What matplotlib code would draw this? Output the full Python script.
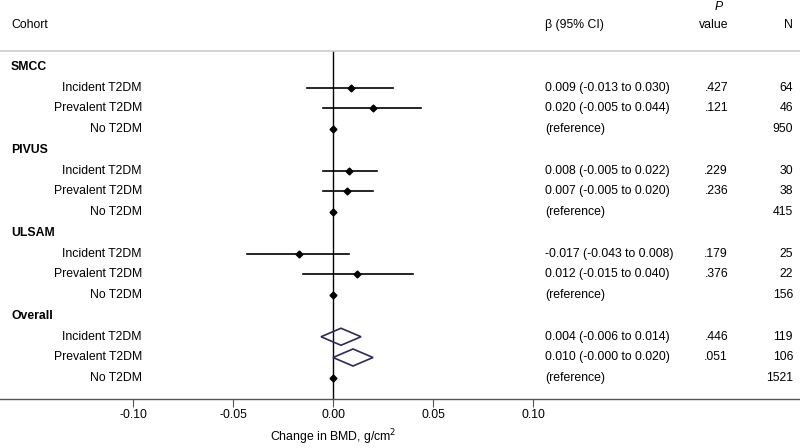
import matplotlib.pyplot as plt
import matplotlib.transforms as mtransforms
from matplotlib.patches import Polygon

plt.rcParams['font.family'] = ['Liberation Sans', 'DejaVu Sans']

# Data
cohorts = ["SMCC", "PIVUS", "ULSAM", "Overall"]
subgroups = ["Incident T2DM", "Prevalent T2DM", "No T2DM"]
beta = [[0.009, 0.020, 0.0], [0.008, 0.007, 0.0], [-0.017, 0.012, 0.0], [0.004, 0.010, 0.0]]
ci_low = [[-0.013, -0.005, None], [-0.005, -0.005, None], [-0.043, -0.015, None], [-0.006, -0.000, None]]
ci_high = [[0.030, 0.044, None], [0.022, 0.020, None], [0.008, 0.040, None], [0.014, 0.020, None]]
ci_text = [["0.009 (-0.013 to 0.030)", "0.020 (-0.005 to 0.044)", "(reference)"],
           ["0.008 (-0.005 to 0.022)", "0.007 (-0.005 to 0.020)", "(reference)"],
           ["-0.017 (-0.043 to 0.008)", "0.012 (-0.015 to 0.040)", "(reference)"],
           ["0.004 (-0.006 to 0.014)", "0.010 (-0.000 to 0.020)", "(reference)"]]
p_text = [[".427", ".121", ""], [".229", ".236", ""], [".179", ".376", ""], [".446", ".051", ""]]
n_text = [["64", "46", "950"], ["30", "38", "415"], ["25", "22", "156"], ["119", "106", "1521"]]
xticks = [-0.10, -0.05, 0.00, 0.05, 0.10]

W, H = 800, 448
fig = plt.figure(figsize=(W / 100, H / 100), dpi=100)
ax = fig.add_axes([0, 49 / H, 1, (399 - 51) / H])
ax.set_xlim(-333 / 2000, (W - 333) / 2000)
ax.set_ylim(16.0, -0.77)

for s in ["left", "right"]:
    ax.spines[s].set_visible(False)
ax.spines["top"].set_color("#cccccc")
ax.spines["top"].set_linewidth(1.2)
ax.spines["bottom"].set_color("#555555")
ax.spines["bottom"].set_linewidth(1.0)
ax.set_yticks([])
ax.set_xticks(xticks)
ax.set_xticklabels([f"{t:.2f}" for t in xticks], fontsize=8.8)
ax.tick_params(axis="x", direction="out", length=5.5, width=0.8, color="#555555", pad=2)

ax.axvline(0, color="black", lw=1.0, zorder=1)

fs = 8.8
trans = mtransforms.blended_transform_factory(fig.transFigure, ax.transData)

row = 0
for g, name in enumerate(cohorts):
    ax.text(11 / W, row, name, transform=trans, fontsize=fs, fontweight="bold",
            va="center", ha="left")
    row += 1
    for k, sub in enumerate(subgroups):
        ax.text(142 / W, row, sub, transform=trans, fontsize=fs, va="center", ha="right")
        ax.text(545 / W, row, ci_text[g][k], transform=trans, fontsize=fs, va="center", ha="left")
        ax.text(728 / W, row, p_text[g][k], transform=trans, fontsize=fs, va="center", ha="right")
        ax.text(793 / W, row, n_text[g][k], transform=trans, fontsize=fs, va="center", ha="right")
        b = beta[g][k]
        lo, hi = ci_low[g][k], ci_high[g][k]
        if lo is None:
            ax.plot([b], [row], marker="D", ms=3.5, color="black", zorder=3)
        elif name == "Overall":
            dia = Polygon([(lo, row), (b, row - 0.41), (hi, row), (b, row + 0.41)],
                          closed=True, fill=False, edgecolor="#2b2b5c", lw=1.2, zorder=3)
            ax.add_patch(dia)
        else:
            ax.plot([lo, hi], [row, row], color="black", lw=1.2, zorder=2)
            ax.plot([b], [row], marker="D", ms=3.5, color="black", zorder=3)
        row += 1

# Header
fig.text(11 / W, 1 - 25 / H, "Cohort", fontsize=fs, va="center", ha="left")
fig.text(545 / W, 1 - 25 / H, "β (95% CI)", fontsize=fs, va="center", ha="left")
fig.text(719 / W, 1 - 7 / H, "P", fontsize=fs, style="italic", va="center", ha="center")
fig.text(714 / W, 1 - 25 / H, "value", fontsize=fs, va="center", ha="center")
fig.text(793 / W, 1 - 25 / H, "N", fontsize=fs, va="center", ha="right")

# x-axis label
fig.text(333 / W, 1 - 437 / H, "Change in BMD, g/cm$^2$", fontsize=fs, va="center", ha="center")

fig.savefig("out.png", dpi=100)
